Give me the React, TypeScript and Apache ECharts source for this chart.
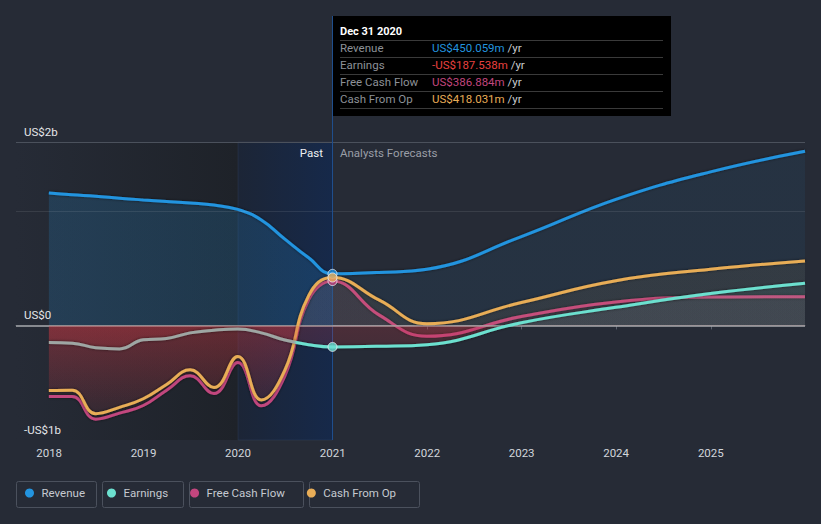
import React, { useEffect, useRef } from "react";
import * as echarts from "echarts";

// ---- data (US$ millions) ----
const pastDates = [
  "2017-12-31", "2018-03-31", "2018-06-30", "2018-09-30", "2018-12-31",
  "2019-03-31", "2019-06-30", "2019-09-30", "2019-12-31", "2020-03-31",
  "2020-06-30", "2020-09-30", "2020-12-31",
];
const forecastDates = ["2021-06-30", "2021-12-31", "2022-12-31", "2023-12-31", "2024-12-31", "2025-12-31"];

const revenuePast = [1155, 1140, 1128, 1110, 1095, 1082, 1068, 1050, 1012, 920, 753, 590, 450.059];
const revenueForecast = [462, 490, 775, 1100, 1340, 1520];
const earningsPast = [-150, -155, -195, -205, -126, -115, -65, -42, -31, -65, -128, -168, -187.538];
const earningsForecast = [-182, -168, 24, 158, 278, 368];
const fcfPast = [-621, -621, -818, -765, -699, -565, -440, -595, -324, -702, -440, 225, 386.884];
const fcfForecast = [90, -95, 77, 204, 247, 251];
const cfoPast = [-568, -565, -770, -715, -640, -515, -388, -542, -272, -650, -390, 260, 418.031];
const cfoForecast = [220, 15, 200, 390, 490, 562];

const xMin = "2017-08-26";
const xMax = "2025-12-31";
const pastShadeEnd = "2020-01-01";
const nowDate = "2020-12-31";
const nowLabel = "Dec 31 2020";
const yMin = -1000;
const yMax = 2700;
const yTop = 1600;
const yLabels: Record<string, string> = { "-1000": "-US$1b", "0": "US$0", "1600": "US$2b" };
const gridValues = [1000, 1600];

const names = ["Revenue", "Earnings", "Free Cash Flow", "Cash From Op"];
const colors = ["#2394df", "#6ce0cf", "#c2467e", "#e8ad57"];
const rgbs = ["35,148,223", "108,224,207", "194,70,126", "232,173,87"];

const FONT = "Roboto, 'Noto Sans', sans-serif";

export default function App() {
  const ref = useRef<HTMLDivElement>(null);
  useEffect(() => {
    if (!ref.current) return;
    const chart = echarts.init(ref.current, undefined, { renderer: "svg" });
    const dates = pastDates.concat(forecastDates);
    const mk = (a: number[], b: number[]) => a.concat(b).map((v, i) => [dates[i], v]);
    const seriesVals = [
      mk(revenuePast, revenueForecast),
      mk(earningsPast, earningsForecast),
      mk(fcfPast, fcfForecast),
      mk(cfoPast, cfoForecast),
    ];
    const last = pastDates.length - 1;
    const nowVals = [revenuePast[last], earningsPast[last], fcfPast[last], cfoPast[last]];

    const gTop = 16, gBottom = 440;
    const zOff = yMax / (yMax - yMin);
    const nowFrac = 332 / 821;

    const fillGrad = (rgb: string, a: number) =>
      new echarts.graphic.LinearGradient(0, gTop, 0, gBottom, [
        { offset: 0, color: `rgba(${rgb},${a})` },
        { offset: zOff, color: `rgba(${rgb},${a})` },
        { offset: zOff + 0.0005, color: "rgba(205,55,65,0.32)" },
        { offset: 1, color: "rgba(205,55,65,0)" },
      ], true);

    const revFill = new echarts.graphic.LinearGradient(0, 0, 821, 0, [
      { offset: 0, color: "rgba(35,148,223,0.27)" },
      { offset: nowFrac, color: "rgba(35,148,223,0.27)" },
      { offset: nowFrac + 0.001, color: "rgba(35,148,223,0.10)" },
      { offset: 1, color: "rgba(35,148,223,0.10)" },
    ], true);

    const earnLine = new echarts.graphic.LinearGradient(0, 0, 821, 0, [
      { offset: 0, color: "#9ea6a3" },
      { offset: 0.358, color: "#9ea6a3" },
      { offset: 0.362, color: colors[1] },
      { offset: 1, color: colors[1] },
    ], true);

    const zOrder = [3, 7, 4, 5];
    const lineSeries = names.map((n, i) => ({
      name: n,
      type: "line",
      data: seriesVals[i],
      smooth: 0.45,
      symbol: "none",
      z: zOrder[i],
      color: colors[i],
      lineStyle: {
        width: 3,
        color: i === 1 ? earnLine : colors[i],
        shadowColor: "rgba(0,0,0,0.55)",
        shadowBlur: 3,
      },
      areaStyle: { color: i === 0 ? revFill : fillGrad(rgbs[i], 0.1) },
      silent: true,
    }));

    const tipRows = names.map((n, i) => ({
      label: n,
      value: (nowVals[i] < 0 ? "-" : "") + "US$" + Math.abs(nowVals[i]).toFixed(3) + "m",
      color: i === 1 ? "#e8413f" : colors[i],
    }));

    const tipChildren: any[] = [
      { type: "rect", shape: { x: 0, y: 0, width: 338, height: 100 }, style: { fill: "#000" } },
      {
        type: "text", x: 7, y: 15,
        style: { text: nowLabel, fill: "#ffffff", fontSize: 11, fontWeight: "bold", fontFamily: FONT, verticalAlign: "middle" },
      },
    ];
    tipRows.forEach((r, k) => {
      const cy = 32 + k * 17;
      tipChildren.push({
        type: "line", shape: { x1: 7, y1: cy - 7.5, x2: 330, y2: cy - 7.5 },
        style: { stroke: "#3a3a3a", lineWidth: 1 },
      });
      tipChildren.push({
        type: "text", x: 7, y: cy,
        style: { text: r.label, fill: "#8d9197", fontSize: 11.5, fontFamily: FONT, verticalAlign: "middle" },
      });
      tipChildren.push({
        type: "text", x: 99, y: cy,
        style: {
          text: `{v|${r.value}} {u|/yr}`,
          fontSize: 11.5, fontFamily: FONT, verticalAlign: "middle",
          rich: {
            v: { fill: r.color, color: r.color, fontSize: 11.5, fontFamily: FONT },
            u: { fill: "#c9ccd1", color: "#c9ccd1", fontSize: 11.5, fontFamily: FONT },
          },
        },
      });
    });
    tipChildren.push({
      type: "line", shape: { x1: 7, y1: 32 + 4 * 17 - 7.5, x2: 330, y2: 32 + 4 * 17 - 7.5 },
      style: { stroke: "#3a3a3a", lineWidth: 1 },
    });

    const legendBoxes = [
      [16.5, 80], [102.5, 81], [189.5, 114], [309.5, 110],
    ].map(([x, w]) => ({
      type: "rect", shape: { x, y: 481.5, width: w, height: 26, r: 2 },
      style: { fill: "none", stroke: "#4b515d", lineWidth: 1 }, z: 1,
    }));

    const option: any = {
      animation: false,
      backgroundColor: "#262b36",
      textStyle: { fontFamily: FONT },
      grid: { left: 16, right: 16, top: gTop, bottom: 524 - gBottom, containLabel: false },
      xAxis: {
        type: "time",
        min: xMin,
        max: xMax,
        minInterval: 365 * 24 * 3600 * 1000,
        maxInterval: 366 * 24 * 3600 * 1000,
        axisLine: { show: true, lineStyle: { color: "#5a606c", width: 1 } },
        axisTick: { show: true, length: 4, lineStyle: { color: "#5a606c" } },
        splitLine: { show: false },
        axisLabel: {
          color: "#d2d6dc", fontSize: 11.5, fontFamily: FONT, margin: 7,
          formatter: (v: number) => String(new Date(v).getFullYear()),
        },
      },
      yAxis: {
        type: "value",
        min: yMin,
        max: yMax,
        interval: 200,
        z: 20,
        axisLine: { show: false },
        axisTick: { show: false },
        splitLine: { show: false },
        axisLabel: {
          inside: true,
          hideOverlap: false,
          showMinLabel: true,
          margin: 8,
          align: "left",
          verticalAlign: "bottom",
          padding: [0, 0, 4, 0],
          color: "#e4e6e9",
          fontSize: 11.5,
          fontFamily: FONT,
          formatter: (v: number) => yLabels[String(Math.round(v))] || "",
        },
      },
      legend: {
        data: names.map((n, i) => ({ name: n, itemStyle: { color: colors[i] } })),
        left: 25,
        top: 487,
        padding: 0,
        icon: "circle",
        itemWidth: 14,
        itemHeight: 9,
        itemGap: 22,
        selectedMode: false,
        textStyle: { color: "#c5c9d0", fontSize: 11.5, fontFamily: FONT },
      },
      series: [
        {
          name: "bg",
          type: "line",
          data: [],
          z: 1,
          silent: true,
          markArea: {
            silent: true,
            data: [
              [
                {
                  xAxis: xMin,
                  yAxis: yTop,
                  itemStyle: {
                    color: new echarts.graphic.LinearGradient(0, 0, 1, 0, [
                      { offset: 0, color: "#262b36" },
                      { offset: 1, color: "#1e2229" },
                    ]),
                  },
                },
                { xAxis: pastShadeEnd, yAxis: yMin },
              ],
              [
                {
                  xAxis: pastShadeEnd,
                  yAxis: yTop,
                  itemStyle: {
                    color: new echarts.graphic.LinearGradient(0, 0, 1, 0, [
                      { offset: 0, color: "#1c2536" },
                      { offset: 1, color: "#16294a" },
                    ]),
                    borderColor: "rgba(60,80,115,0.35)",
                    borderWidth: 0.8,
                  },
                },
                { xAxis: nowDate, yAxis: yMin },
              ],
            ],
          },
          markLine: {
            silent: true,
            symbol: ["none", "none"],
            label: { show: false },
            data: [
              ...gridValues.map((v) => ({
                yAxis: v,
                lineStyle: { color: v === 1600 ? "#4b515c" : "rgba(255,255,255,0.09)", width: 1, type: "solid" },
              })),
              { xAxis: nowDate, lineStyle: { color: "#1f4e8c", width: 1, type: "solid" } },
            ],
          },
        },
        ...lineSeries,
        {
          name: "zero",
          type: "line",
          data: [],
          z: 8,
          silent: true,
          markLine: {
            silent: true,
            symbol: ["none", "none"],
            label: { show: false },
            data: [{ yAxis: 0, lineStyle: { color: "#a9abaf", width: 1.5, type: "solid" } }],
          },
        },
        {
          name: "now",
          type: "scatter",
          z: 10,
          silent: true,
          symbolSize: 9,
          data: [1, 2, 0, 3].map((i) => ({
            value: [nowDate, nowVals[i]],
            itemStyle: { color: colors[i], borderColor: "#e8ecf2", borderWidth: 1 },
          })),
        },
      ],
      graphic: [
        {
          type: "text", x: 323, y: 153, z: 20,
          style: { text: "Past", fill: "#eef0f2", fontSize: 11.5, fontFamily: FONT, align: "right", verticalAlign: "middle" },
        },
        {
          type: "text", x: 340, y: 153, z: 20,
          style: { text: "Analysts Forecasts", fill: "#9a9ea6", fontSize: 11.5, fontFamily: FONT, align: "left", verticalAlign: "middle" },
        },
        { type: "group", x: 333, y: 16, z: 100, children: tipChildren },
        ...legendBoxes,
      ],
    };
    chart.setOption(option);
    return () => chart.dispose();
  }, []);
  return (
    <div
      ref={ref}
      style={{ position: "fixed", left: 0, top: 0, width: 821, height: 524 }}
    />
  );
}
